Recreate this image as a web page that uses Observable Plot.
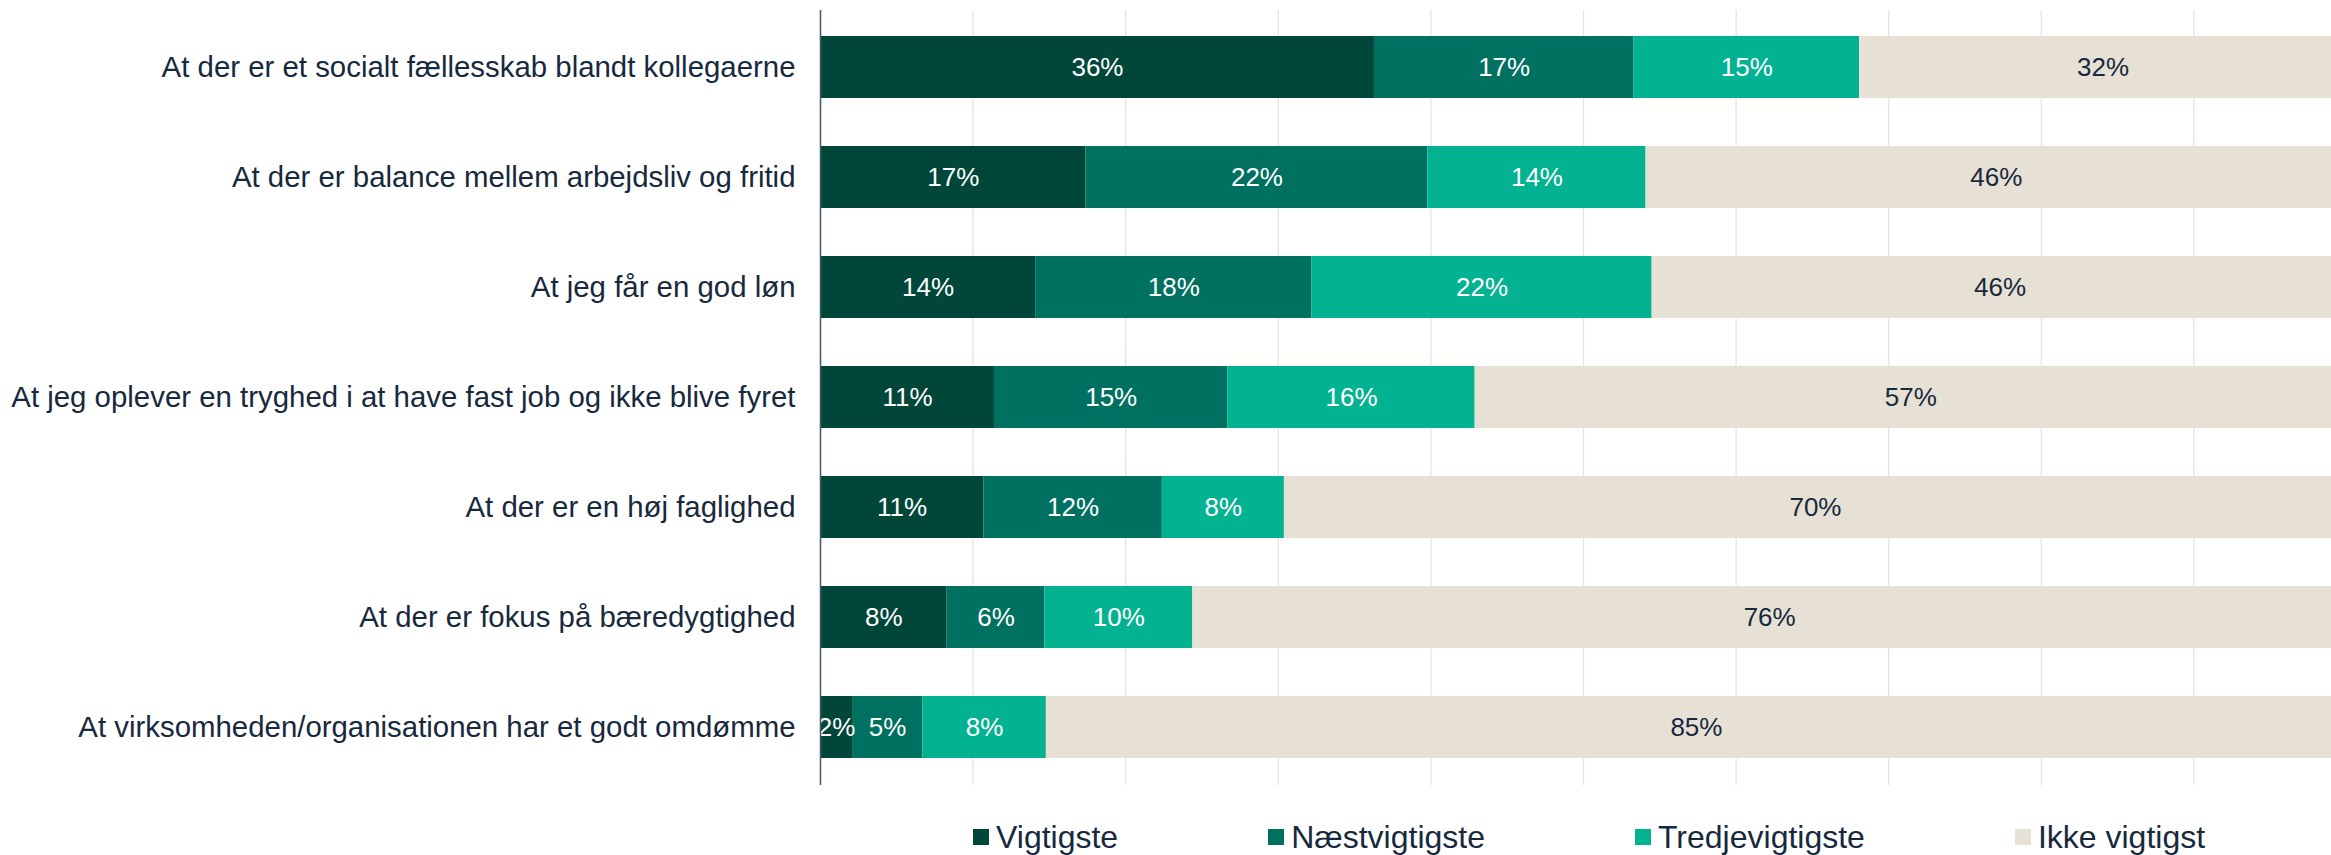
<!DOCTYPE html>
<html>
<head>
<meta charset="utf-8">
<script src="https://cdn.jsdelivr.net/npm/d3@7"></script>
<script src="https://cdn.jsdelivr.net/npm/@observablehq/plot@0.6"></script>
<style>
  html, body { margin: 0; padding: 0; background: #ffffff; overflow: hidden; }
  #legend { display: flex; align-items: center; height: 36px; margin-top: 24px; padding-left: 973px;
            font-family: "Liberation Sans", Arial, sans-serif; font-size: 32px; color: #17293D; white-space: nowrap; }
  #legend .item { display: flex; align-items: center; margin-right: 150px; }
  #legend .sw { width: 16px; height: 16px; margin-right: 7px; }
</style>
</head>
<body>
<div id="chart"></div>
<div id="legend"></div>
<script>
const categories = [
  "At der er et socialt fællesskab blandt kollegaerne",
  "At der er balance mellem arbejdsliv og fritid",
  "At jeg får en god løn",
  "At jeg oplever en tryghed i at have fast job og ikke blive fyret",
  "At der er en høj faglighed",
  "At der er fokus på bæredygtighed",
  "At virksomheden/organisationen har et godt omdømme"
];
const seriesNames = ["Vigtigste", "Næstvigtigste", "Tredjevigtigste", "Ikke vigtigst"];
const seriesColors = ["#00473A", "#007060", "#03B291", "#E7E0D5"];
const vigtigste      = [36.3, 17.4, 14.1, 11.4, 10.7, 8.3, 2.1];
const naestvigtigste = [17.0, 22.4, 18.1, 15.3, 11.7, 6.4, 4.6];
const tredjevigtigste= [14.8, 14.3, 22.3, 16.2, 8.0, 9.7, 8.1];
const ikkeVigtigst   = [31.9, 45.9, 45.6, 57.1, 69.6, 75.6, 85.2];

const seriesValues = [vigtigste, naestvigtigste, tredjevigtigste, ikkeVigtigst];
const data = [];
categories.forEach((c, i) => {
  seriesNames.forEach((s, j) => {
    data.push({item: c, series: s, value: seriesValues[j][i]});
  });
});

const navy = "#17293D";
const labelText = d => `${Math.round(d.value)}%`;

const plot = Plot.plot({
  width: 2331,
  height: 795,
  marginLeft: 820,
  marginRight: -15,
  marginTop: 10,
  marginBottom: 10,
  style: {fontFamily: "'Liberation Sans', Arial, sans-serif", fontSize: "29.4px", color: navy, background: "#ffffff", overflow: "hidden"},
  x: {domain: [0, 100], axis: null},
  y: {domain: categories, label: null, tickSize: 0, tickPadding: 25, paddingInner: 0.432, paddingOuter: 0.216},
  color: {domain: seriesNames, range: seriesColors},
  marks: [
    Plot.gridX({ticks: 10, stroke: "#E2E2E2", strokeOpacity: 1, strokeWidth: 1.2}),
    Plot.barX(data, {x: "value", y: "item", fill: "series"}),
    Plot.text(data, Plot.stackX({x: "value", y: "item", z: "series", text: labelText,
      fill: d => d.series === "Ikke vigtigst" ? navy : "#ffffff", fontSize: 26})),
    Plot.ruleX([0], {stroke: "#47566A", strokeWidth: 1.5})
  ]
});
document.getElementById("chart").appendChild(plot);

const legend = document.getElementById("legend");
seriesNames.forEach((s, j) => {
  const item = document.createElement("div");
  item.className = "item";
  const sw = document.createElement("div");
  sw.className = "sw";
  sw.style.background = seriesColors[j];
  const t = document.createElement("span");
  t.textContent = s;
  item.appendChild(sw);
  item.appendChild(t);
  legend.appendChild(item);
});
</script>
</body>
</html>
